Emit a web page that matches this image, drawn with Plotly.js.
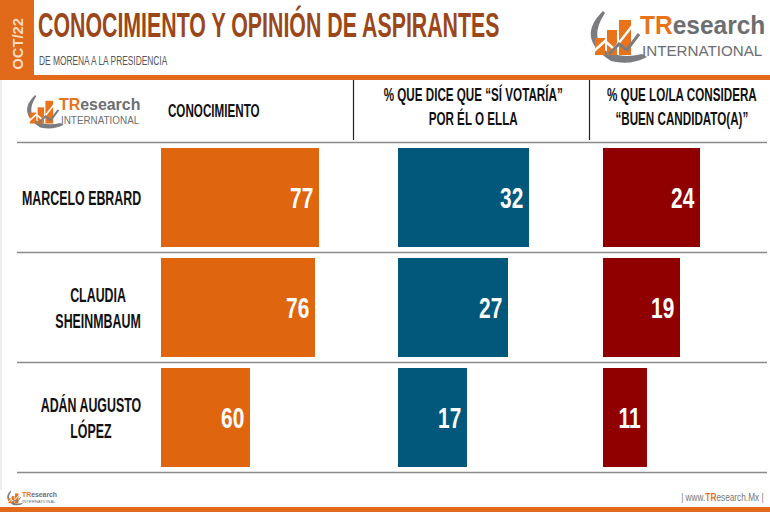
<!DOCTYPE html>
<html>
<head>
<meta charset="utf-8">
<script src="https://cdn.plot.ly/plotly-3.0.1.min.js"></script>
<style>html,body{margin:0;padding:0;background:#fff;}#chart{width:770px;height:512px;}</style>
</head>
<body>
<div id="chart"></div>
<script>
// ---- data ----
const candidates = ['MARCELO EBRARD', 'CLAUDIA<br>SHEINMBAUM', 'ADÁN AUGUSTO<br>LÓPEZ'];
const conocimiento = [77, 76, 60];
const siVotaria = [32, 27, 17];
const buenCandidato = [24, 19, 11];
const columnHeaders = ['CONOCIMIENTO', '% QUE DICE QUE “SÍ VOTARÍA”<br>POR ÉL O ELLA', '% QUE LO/LA CONSIDERA<br>“BUEN CANDIDATO(A)”'];
const titleText = 'CONOCIMIENTO Y OPINIÓN DE ASPIRANTES';
const subtitleText = 'DE MORENA A LA PRESIDENCIA';
const dateText = 'OCT/22';

// ---- layout helpers ----
const W = 770, H = 512;
const X = p => p / W;
const Y = p => 1 - p / H;
const SANS = '"Liberation Sans", Arial, sans-serif';
const ORANGE = '#DF650F', BLUE = '#02587A', RED = '#910000';
const HDR = '#E0691A';

const shapes = [];
const annotations = [];
const squeeze = [];   // horizontal condensing factor for each annotation

function addAnn(a, s) { annotations.push(a); squeeze.push(s || 1); }

function rectPx(x0, y0, x1, y1, color) {
  shapes.push({type: 'rect', xref: 'paper', yref: 'paper', x0: X(x0), x1: X(x1), y0: Y(y1), y1: Y(y0),
    fillcolor: color, line: {width: 0}, layer: 'below'});
}
function linePx(x0, y0, x1, y1, color, w) {
  shapes.push({type: 'line', xref: 'paper', yref: 'paper', x0: X(x0), x1: X(x1), y0: Y(y0), y1: Y(y1),
    line: {color: color, width: w}});
}
function textPx(x, y, text, font, xanchor, align, s, extra) {
  addAnn(Object.assign({xref: 'paper', yref: 'paper', x: X(x), y: Y(y), text: text,
    showarrow: false, xanchor: xanchor || 'left', yanchor: 'middle', align: align || 'left',
    font: font, borderpad: 0}, extra || {}), s);
}

function barTrace(vals, axis, color) {
  return {
    type: 'bar', orientation: 'h', y: candidates, x: vals,
    xaxis: axis, yaxis: 'y', width: 0.9,
    marker: {color: color, line: {width: 0}}, hoverinfo: 'skip'
  };
}
const data = [
  barTrace(conocimiento, 'x', ORANGE),
  barTrace(siVotaria, 'x2', BLUE),
  barTrace(buenCandidato, 'x3', RED)
];

// value labels, placed at the end of each bar through the axes
[[conocimiento, 'x'], [siVotaria, 'x2'], [buenCandidato, 'x3']].forEach(([vals, ax]) => {
  vals.forEach((v, i) => addAnn({xref: ax, yref: 'y', x: v, y: candidates[i], text: String(v),
    showarrow: false, xanchor: 'right', yanchor: 'middle', xshift: -5, borderpad: 0,
    font: {family: SANS, size: 29, color: '#ffffff', weight: 'bold'}}, 0.72));
});

// logo drawn with shapes/text, local coordinates relative to the big logo (182x54)
function logo(ox, oy, s) {
  const px = (x, y) => X(ox + x * s) + ',' + Y(oy + y * s);
  shapes.push({type: 'path', xref: 'paper', yref: 'paper', fillcolor: '#7B7C7F', line: {width: 0},
    path: 'M' + px(20, 3) + ' Q' + px(-8, 30) + ' ' + px(28, 53) + ' Q' + px(47, 58) + ' ' + px(64, 49) +
      ' L' + px(59, 46) + ' Q' + px(38, 51) + ' ' + px(23, 43) + ' Q' + px(6, 29) + ' ' + px(22, 5) + ' Z'});
  const bars = [[12, 30, 22, 47], [24, 22, 34, 47], [36, 12, 48, 47]];
  bars.forEach(b => shapes.push({type: 'rect', xref: 'paper', yref: 'paper',
    x0: X(ox + b[0] * s), x1: X(ox + b[2] * s), y0: Y(oy + b[3] * s), y1: Y(oy + b[1] * s),
    fillcolor: '#E8731A', line: {width: 0}}));
  shapes.push({type: 'path', xref: 'paper', yref: 'paper', line: {color: '#ffffff', width: Math.max(1, 2.5 * s)},
    path: 'M' + px(10, 44) + ' L' + px(22, 33) + ' L' + px(31, 41) + ' L' + px(50, 17)});
  shapes.push({type: 'path', xref: 'paper', yref: 'paper', line: {color: '#7B7C7F', width: Math.max(1, 3 * s)},
    path: 'M' + px(26, 46) + ' L' + px(36, 36) + ' L' + px(44, 42) + ' L' + px(56, 26)});
  textPx(ox + 56 * s, oy + 17 * s,
    '<span style="color:#E8731A">TR</span><span style="color:#6D6E71">esearch</span>',
    {family: SANS, size: 25 * s, weight: 'bold', color: '#6D6E71'}, 'left', 'left', 0.98);
  textPx(ox + 58 * s, oy + 42 * s, 'INTERNATIONAL',
    {family: SANS, size: 15.5 * s, color: '#6D6E71'}, 'left', 'left', 0.98);
}

// header band
rectPx(0, 0, 34, 79, HDR);
rectPx(0, 75, W, 80, HDR);
textPx(17, 44, dateText, {family: SANS, size: 15.5, color: '#F6DCC0', weight: 'bold'}, 'center', 'center', 0.95, {textangle: -90});
textPx(37, 24, titleText, {family: SANS, size: 35, color: '#9B4719', weight: 'bold'}, 'left', 'left', 0.61);
textPx(38, 60, subtitleText, {family: SANS, size: 13.5, color: '#555555'}, 'left', 'left', 0.62);
logo(583, 8, 1);

// column headers
linePx(353.5, 80, 353.5, 140, '#222222', 1.2);
linePx(589.5, 80, 589.5, 140, '#222222', 1.2);
logo(22, 93, 0.65);
const hdrFont = {family: SANS, size: 18.5, color: '#111111', weight: 'bold'};
textPx(214, 110, columnHeaders[0], hdrFont, 'center', 'center', 0.63);
textPx(472.5, 106, columnHeaders[1], hdrFont, 'center', 'center', 0.63);
textPx(682, 106, columnHeaders[2], hdrFont, 'center', 'center', 0.63);

// row separators
[142.5, 252.5, 362.5, 472.5].forEach(y => linePx(17, y, 767, y, '#8A8A8A', 1.3));
linePx(1, 80, 1, 490, '#DDDDDD', 1);

// candidate names
candidates.forEach(c => addAnn({xref: 'paper', yref: 'y', x: X(142), y: c, text: c,
  showarrow: false, xanchor: 'right', yanchor: 'middle', align: 'center', borderpad: 0,
  font: {family: SANS, size: 20, color: '#111111', weight: 'bold'}}, 0.62));

// footer
rectPx(0, 507, W, 512, HDR);
logo(5, 490, 0.28);
textPx(765, 497, '| www.<span style="color:#E8731A"><b>TR</b></span>esearch.Mx |',
  {family: SANS, size: 11.5, color: '#777777'}, 'right', 'right', 0.72);

const pxPerUnit1 = 4.06, pxPerUnit2 = 4.1, pxPerUnit3 = 4.05;
const layout = {
  width: W, height: H, margin: {l: 0, r: 0, t: 0, b: 0, pad: 0},
  paper_bgcolor: '#ffffff', plot_bgcolor: 'rgba(0,0,0,0)',
  showlegend: false, bargap: 0,
  xaxis: {domain: [X(161), X(345)], range: [38, 38 + 184 / pxPerUnit1], visible: false, anchor: 'y', fixedrange: true},
  xaxis2: {domain: [X(397.7), X(585)], range: [0, 187.3 / pxPerUnit2], visible: false, anchor: 'y', fixedrange: true},
  xaxis3: {domain: [X(602.7), X(766)], range: [0, 163.3 / pxPerUnit3], visible: false, anchor: 'y', fixedrange: true},
  yaxis: {domain: [Y(472.5), Y(142.5)], type: 'category', range: [2.5, -0.5], visible: false, anchor: 'x', fixedrange: true},
  shapes: shapes, annotations: annotations
};

Plotly.newPlot('chart', data, layout, {displayModeBar: false, staticPlot: true}).then(gd => {
  gd.querySelectorAll('g.annotation').forEach(g => {
    const i = +g.getAttribute('data-index');
    const s = squeeze[i];
    if (!s || s === 1) return;
    const t = g.querySelector('text.annotation-text');
    if (!t) return;
    const anchor = annotations[i].xanchor;
    t.style.transformBox = 'fill-box';
    t.style.transformOrigin = anchor === 'left' ? 'left center' : anchor === 'right' ? 'right center' : 'center center';
    t.style.transform = 'scaleX(' + s + ')';
  });
});
</script>
</body>
</html>
